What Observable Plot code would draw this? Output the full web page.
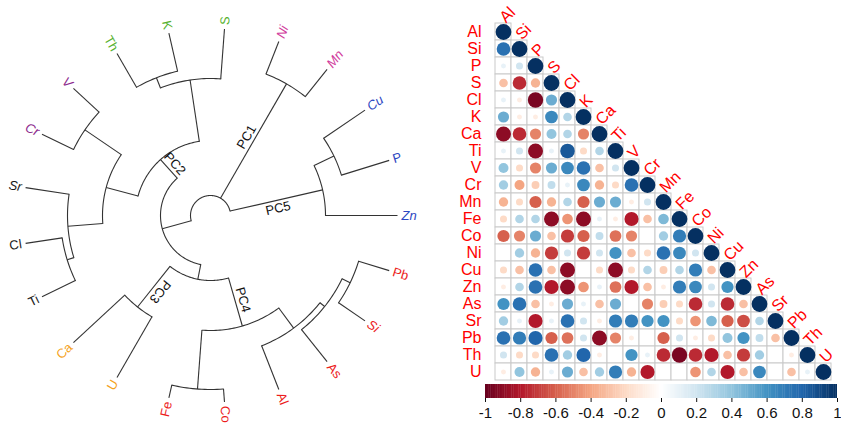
<!DOCTYPE html>
<html><head><meta charset="utf-8">
<script src="https://cdn.jsdelivr.net/npm/d3@7"></script>
<script src="https://cdn.jsdelivr.net/npm/@observablehq/plot@0.6"></script>
<style>
body{margin:0;background:#fff;}
#wrap{position:relative;width:841px;height:428px;overflow:hidden;background:#fff;}
#wrap svg{position:absolute;background:transparent;}
</style></head><body><div id="wrap"></div>
<script>
// ---------------- Dendrogram data ----------------
const leaves     = ["Zn","P","Cu","Mn","Ni","S","K","Th","V","Cr","Sr","Cl","Ti","Ca","U","Fe","Co","Al","As","Si","Pb"];
const leafGroup  = ["g5","g5","g5","g1","g1","g2a","g2a","g2a","g2b","g2b","g2c","g2c","g2c","g3","g3","g4","g4","g4","g4","g4","g4"];
const leafParent = ["n5","nCP","nCP","n1","n1","nSKT","nKT","nKT","nVC","nVC","nSCT","nCT","nCT","n3","n3","nFC","nFC","nA","nASP","nSP","nSP"];
const italicLeaves = ["Zn","Cu","Mn","Ni","V","Cr","Sr","Si"];
const leafHeight = 187;
const nodeId     = ["root","n5","nCP","n1","nL","n2","nSKT","nKT","nM","nVC","nSCT","nCT","nB","n3","n4","nFC","nA","nASP","nSP"];
const nodeParent = [null,"root","n5","root","root","nL","n2","nSKT","n2","nM","nM","nSCT","nL","nB","nB","n4","n4","nA","nASP"];
const nodeHeight = [20,115,137,152,50,75,137,148,108,152,143,150,65,117,115,174,140,146,155];
const branchNode = ["n1","n2","n3","n4","n5"];
const branchText = ["PC1","PC2","PC3","PC4","PC5"];
const branchSide = [1,-1,1,1,-1];
const branchFlip = [false,true,false,false,false];
const groupNames  = ["g5","g1","g2a","g2b","g2c","g3","g4"];
const groupColors = ["#2d47c2","#d13c9c","#58b22f","#8e2c8e","#1a1a1a","#f5a21b","#ec1c1c"];

// ---------------- Correlation data ----------------
const vars = ["Al","Si","P","S","Cl","K","Ca","Ti","V","Cr","Mn","Fe","Co","Ni","Cu","Zn","As","Sr","Pb","Th","U"];
const rAl = [];
const rSi = [0.75];
const rP  = [0.1, 0.2];
const rS  = [-0.3, -0.75, -0.35];
const rCl = [0.1, -0.1, -0.95, 0.5];
const rK  = [0.5, -0.1, -0.1, 0.65, 0.3];
const rCa = [-0.9, -0.75, -0.5, 0.4, 0.3, -0.5];
const rTi = [0.1, 0.2, -0.9, 0.1, 0.85, -0.2, 0.3];
const rV  = [0.4, -0.2, -0.5, 0.5, 0.65, 0.75, -0.3, 0.2];
const rCr = [0.35, -0.4, -0.25, 0.25, 0.1, 0.65, -0.35, -0.2, 0.75];
const rMn = [-0.35, -0.2, -0.6, -0.35, 0.3, -0.6, 0.5, 0.5, -0.1, 0.2];
const rFe = [-0.2, 0.3, 0.3, -0.9, -0.45, -0.9, 0.1, -0.1, -0.8, -0.3, 0.45];
const rCo = [-0.6, -0.5, 0.5, -0.3, -0.7, -0.6, 0.25, -0.55, -0.5, 0, 0.35, 0.7];
const rNi = [0, 0.35, -0.35, -0.7, 0.2, -0.7, 0.2, 0.6, -0.3, -0.2, 0.75, 0.65, 0.2];
const rCu = [-0.2, -0.3, 0.75, -0.3, -0.9, 0, -0.2, -0.9, -0.2, 0.3, -0.25, 0.3, 0.7, -0.3];
const rZn = [-0.1, 0.3, 0.75, -0.8, -0.9, -0.45, 0.1, -0.55, -0.8, -0.3, -0.1, 0.7, 0.65, 0.2, 0.6];
const rAs = [0.6, 0.75, -0.3, -0.1, 0.5, 0.1, -0.3, 0.5, 0, -0.5, -0.25, -0.2, -0.75, 0.2, -0.75, -0.3];
const rSr = [0.35, 0.1, -0.8, 0.1, 0.75, 0.2, -0.1, 0.7, 0.7, 0.6, 0.6, -0.2, -0.45, 0.45, -0.6, -0.65, 0.3];
const rPb = [0.75, 0.7, 0.8, -0.6, -0.55, 0.2, -0.9, -0.5, -0.1, 0, -0.6, 0.2, -0.1, -0.2, 0.4, 0.6, 0.25, -0.3];
const rTh = [0.2, -0.2, -0.2, 0.75, 0.35, 0.8, -0.1, 0, 0.6, 0.1, -0.75, -0.95, -0.75, -0.8, -0.3, -0.7, 0.35, 0, -0.1];
const rU  = [-0.1, 0.4, -0.35, 0.1, 0.5, -0.3, 0.35, 0.7, -0.35, -0.8, 0, 0, -0.45, 0.3, -0.8, -0.3, 0.65, 0, -0.3, 0.1];
const corrRows = [rAl,rSi,rP,rS,rCl,rK,rCa,rTi,rV,rCr,rMn,rFe,rCo,rNi,rCu,rZn,rAs,rSr,rPb,rTh,rU];
const colorStops = [-1,-0.8,-0.6,-0.4,-0.2,0,0.2,0.4,0.6,0.8,1];
const colorRange = ["#67001F","#B2182B","#D6604D","#F4A582","#FDDBC7","#FFFFFF","#D1E5F0","#92C5DE","#4393C3","#2166AC","#053061"];
const legendTicks = [-1,-0.8,-0.6,-0.4,-0.2,0,0.2,0.4,0.6,0.8,1];

const FONT = "'Liberation Sans', Arial, sans-serif";
const wrap = document.getElementById("wrap");

// ---------------- Build dendrogram geometry ----------------
const N = leaves.length;
const ang = new Map(), hgt = new Map(), parentOf = new Map();
leaves.forEach((l, i) => { ang.set(l, i * 360 / N); hgt.set(l, leafHeight); parentOf.set(l, leafParent[i]); });
nodeId.forEach((n, i) => { hgt.set(n, nodeHeight[i]); parentOf.set(n, nodeParent[i]); });
const childrenOf = id => [...parentOf].filter(([c, p]) => p === id).map(([c]) => c);
function angleOf(id) {
  if (ang.has(id)) return ang.get(id);
  const a = d3.mean(childrenOf(id), angleOf);
  ang.set(id, a);
  return a;
}
nodeId.forEach(angleOf);
const rad = a => a * Math.PI / 180;
const px = (r, a) => r * Math.cos(rad(a));
const py = (r, a) => r * Math.sin(rad(a));

const radials = [...parentOf].filter(([c, p]) => p != null).map(([c, p]) => {
  const a = ang.get(c), r0 = hgt.get(p), r1 = hgt.get(c);
  return {x1: px(r0, a), y1: py(r0, a), x2: px(r1, a), y2: py(r1, a)};
});
const arcs = [];
nodeId.forEach(n => {
  const as = childrenOf(n).map(c => ang.get(c));
  const a0 = d3.min(as), a1 = d3.max(as), r = hgt.get(n);
  for (let a = a0; a < a1; a += 1) arcs.push({id: n, x: px(r, a), y: py(r, a)});
  arcs.push({id: n, x: px(r, a1), y: py(r, a1)});
});
const leafData = leaves.map((l, i) => {
  const a = ang.get(l), r = leafHeight + 4;
  const right = a < 90 || a > 270;
  return {name: l, group: leafGroup[i], x: px(r, a), y: py(r, a), rot: right ? -a : 180 - a, right, italic: italicLeaves.includes(l)};
});
const branchData = branchNode.map((n, i) => {
  const a = ang.get(n), r = (hgt.get(n) + hgt.get(parentOf.get(n))) / 2;
  const off = 8 * branchSide[i];
  return {text: branchText[i], x: px(r, a) - off * Math.sin(rad(a)), y: py(r, a) + off * Math.cos(rad(a)),
          rot: branchFlip[i] ? 180 - a : -a};
});

const leafMark = (filter, anchor, style) => Plot.text(leafData.filter(filter), {
  x: "x", y: "y", text: "name", rotate: "rot", fill: "group",
  textAnchor: anchor, lineAnchor: "middle", fontSize: 13, fontStyle: style, fontFamily: FONT
});

const dendro = Plot.plot({
  width: 420, height: 428, margin: 0,
  x: {domain: [-210, 210], axis: null},
  y: {domain: [-213, 215], axis: null},
  color: {type: "ordinal", domain: groupNames, range: groupColors},
  style: {background: "transparent"},
  marks: [
    Plot.line(arcs, {x: "x", y: "y", z: "id", stroke: "#333", strokeWidth: 1.1}),
    Plot.link(radials, {x1: "x1", y1: "y1", x2: "x2", y2: "y2", stroke: "#333", strokeWidth: 1.1}),
    leafMark(d => d.right && !d.italic, "start", "normal"),
    leafMark(d => d.right && d.italic, "start", "italic"),
    leafMark(d => !d.right && !d.italic, "end", "normal"),
    leafMark(d => !d.right && d.italic, "end", "italic"),
    Plot.text(branchData, {x: "x", y: "y", text: "text", rotate: "rot", fontSize: 13, fill: "#111", fontFamily: FONT, lineAnchor: "middle"})
  ]
});
dendro.style.left = "0px"; dendro.style.top = "0px";
wrap.appendChild(dendro);

// ---------------- Correlation matrix ----------------
const cells = [];
vars.forEach((rv, i) => {
  vars.forEach((cv, j) => {
    if (j < i) cells.push({row: rv, col: cv, v: corrRows[i][j]});
    else if (j === i) cells.push({row: rv, col: cv, v: 1});
  });
});
const colorScale = {type: "linear", domain: colorStops, range: colorRange, interpolate: "rgb"};

const corr = Plot.plot({
  width: 421, height: 381,
  marginLeft: 65, marginRight: 0, marginTop: 23, marginBottom: 1,
  x: {domain: vars, type: "band", padding: 0, axis: null},
  y: {domain: vars, type: "band", padding: 0},
  r: {type: "sqrt", domain: [0, 1], range: [0, 7.9]},
  color: colorScale,
  style: {background: "transparent"},
  marks: [
    Plot.cell(cells, {x: "col", y: "row", fill: "white", stroke: "#c9c9c9", strokeWidth: 1}),
    Plot.dot(cells, {x: "col", y: "row", r: d => Math.abs(d.v), fill: "v", stroke: "none"}),
    Plot.axisY({tickSize: 0, tickPadding: 4, fontSize: 16, color: "red", label: null, fontFamily: FONT}),
    Plot.text(vars, {x: d => d, y: d => d, text: d => d, rotate: -45, textAnchor: "start", lineAnchor: "middle",
      dx: -1, dy: -12, fontSize: 16, fill: "red", fontFamily: FONT})
  ]
});
corr.style.left = "420px"; corr.style.top = "0px";
wrap.appendChild(corr);

// ---------------- Colour bar ----------------
const grad = d3.range(0, 200).map(i => -1 + i * 0.01);
const bar = Plot.plot({
  width: 421, height: 45,
  marginLeft: 65, marginRight: 4, marginTop: 1, marginBottom: 30,
  x: {domain: [-1, 1]},
  color: colorScale,
  style: {background: "transparent"},
  marks: [
    Plot.rect(grad, {x1: d => d, x2: d => Math.min(1, d + 0.012), fill: d => d + 0.005}),
    Plot.axisX(legendTicks, {tickSize: 4, tickPadding: 5, fontSize: 15, fontFamily: FONT,
      tickFormat: d => String(+d.toFixed(1)), label: null, color: "#111"})
  ]
});
bar.style.left = "420px"; bar.style.top = "383px";
wrap.appendChild(bar);
</script></body></html>
